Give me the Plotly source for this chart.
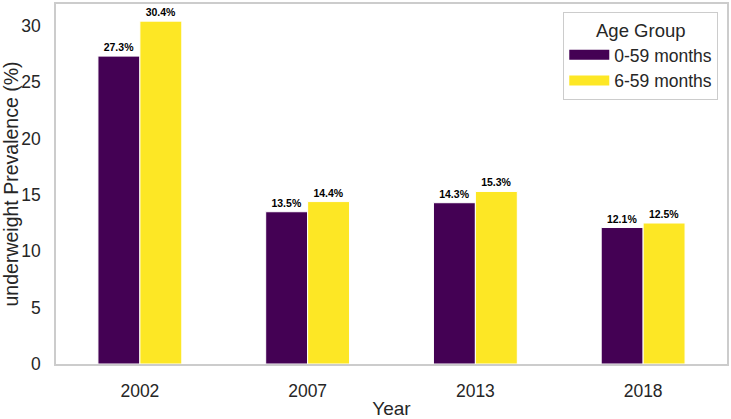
import plotly.graph_objects as go

years = ["2002", "2007", "2013", "2018"]
age_0_59 = [27.3, 13.5, 14.3, 12.1]
age_6_59 = [30.4, 14.4, 15.3, 12.5]
series_names = ["0-59 months", "6-59 months"]
colors = ["#440154", "#fde725"]

FONT = "Liberation Sans, Arial, sans-serif"

fig = go.Figure()
for name, vals, col in zip(series_names, [age_0_59, age_6_59], colors):
    fig.add_trace(go.Bar(
        x=years, y=vals, name=name, showlegend=False, legendgroup=name,
        marker=dict(color=col, line=dict(color="white", width=1)),
        text=[f"{v:.1f}%" for v in vals],
        textposition="outside",
        textfont=dict(family=FONT, size=10.5, color="black", weight="bold"),
        cliponaxis=False,
    ))
# legend entries drawn as wide rectangles (like matplotlib patches)
for name, col in zip(series_names, colors):
    fig.add_trace(go.Scatter(
        x=[years[0]], y=[None], name=name, legendgroup=name,
        mode="lines", line=dict(color=col, width=10), hoverinfo="skip",
    ))

fig.update_layout(
    width=731, height=419,
    margin=dict(l=56, r=2, t=2, b=50),
    paper_bgcolor="white", plot_bgcolor="white",
    barmode="group", bargap=0.5, bargroupgap=0,
    font=dict(family=FONT, color="#262626"),
    showlegend=True,
    legend=dict(
        title=dict(text="Age Group", font=dict(size=18.5, color="#262626"), side="top center"),
        font=dict(size=17.5, color="#262626"),
        x=0.987, xanchor="right", y=0.978, yanchor="top",
        bordercolor="#cccccc", borderwidth=1, bgcolor="white",
        itemwidth=40, tracegroupgap=0,
    ),
)
fig.update_xaxes(
    type="category", range=[-0.5, 3.5],
    showline=True, mirror=True, linecolor="#cccccc", linewidth=1.5,
    showgrid=False, ticks="", ticklabelstandoff=10,
    tickfont=dict(size=17.5, color="#262626"),
    title=dict(text="Year", font=dict(size=19, color="#262626"), standoff=3),
)
fig.update_yaxes(
    range=[0, 31.92], tickvals=[0, 5, 10, 15, 20, 25, 30],
    showline=True, mirror=True, linecolor="#cccccc", linewidth=1.5,
    showgrid=False, zeroline=False, ticks="", ticklabelstandoff=10,
    tickfont=dict(size=17.5, color="#262626"),
    title=dict(text="underweight Prevalence (%)", font=dict(size=19.5, color="#262626"), standoff=3),
)

fig.write_html("out.html")
